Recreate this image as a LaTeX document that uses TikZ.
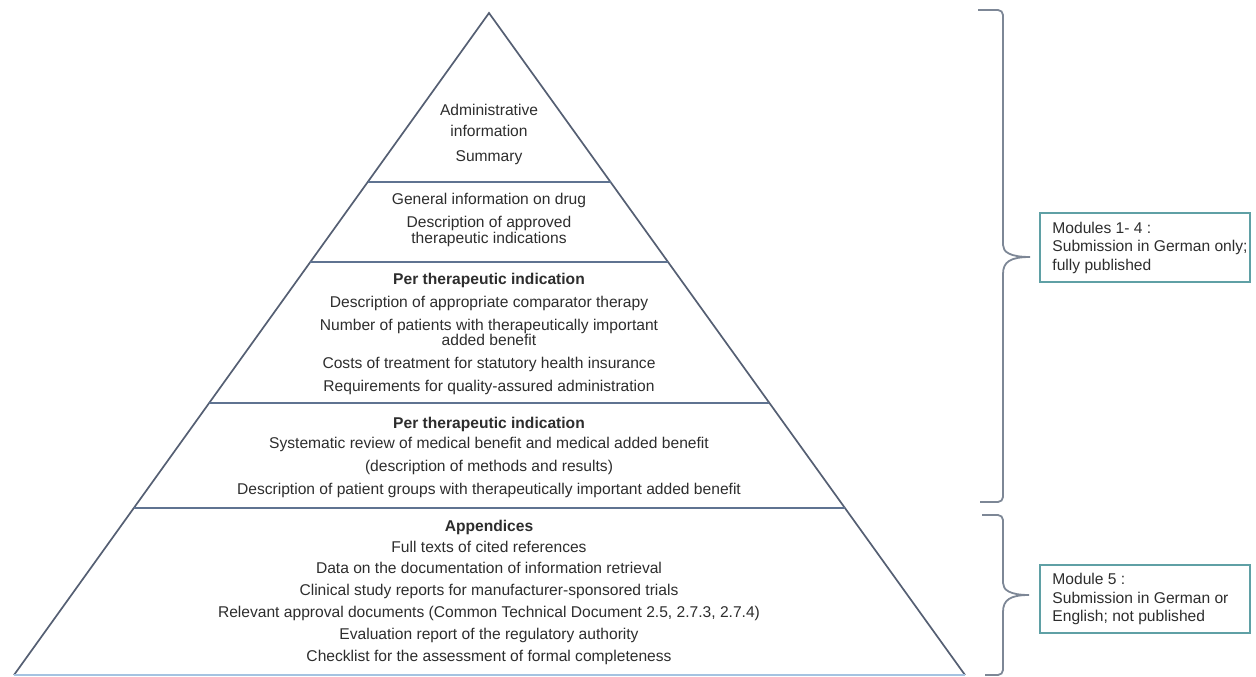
\documentclass[tikz,border=0pt]{standalone}
\usepackage{fontspec}
\setmainfont{Liberation Sans}
\usetikzlibrary{calc}

\definecolor{lado}{RGB}{85,95,115}
\definecolor{separa}{RGB}{95,115,145}
\definecolor{base}{RGB}{165,195,225}
\definecolor{llave}{RGB}{125,135,150}
\definecolor{caja}{RGB}{95,160,165}
\definecolor{texto}{RGB}{45,45,45}

\begin{document}
\begin{tikzpicture}[
    x=1pt, y=-1pt,
    txt/.style={font=\fontsize{15.6}{18.5}\selectfont, text=texto,
        text height=11pt, text depth=0pt, inner sep=0pt},
    tit/.style={txt, font=\fontsize{15.6}{18.5}\selectfont\bfseries},
    modulo/.style={draw=caja, line width=1.5pt, minimum width=210pt, inner sep=0pt},
    nota/.style={font=\fontsize{15.6}{18.5}\selectfont, text=texto, align=left,
        inner sep=0pt, anchor=west},
    llave/.style={draw=llave, line width=1.8pt}
]

\useasboundingbox (0,0) rectangle (1256,677);

% Vertices de la piramide
\coordinate (apex) at (489,13);
\coordinate (bl) at (14,675);
\coordinate (br) at (965,675);

% Lados y base
\draw[lado, line width=1.7pt, line join=miter] (bl) -- (apex) -- (br);
\draw[base, line width=2pt] (bl) -- (br);

% Lineas de separacion entre niveles
\foreach \y in {182,262,403,508}
    \draw[separa, line width=2.2pt]
        ($(apex)!{(\y-13)/662}!(bl)$) -- ($(apex)!{(\y-13)/662}!(br)$);

% Nivel 1
\foreach \y/\t [count=\i] in {110/Administrative, 131/information, 156/Summary}
    \node[txt] (a\i) at (489,\y) {\t};

% Nivel 2
\foreach \y/\t [count=\i] in {199/General information on drug,
        222/Description of approved, 238/therapeutic indications}
    \node[txt] (b\i) at (489,\y) {\t};

% Nivel 3
\node[tit] (c0) at (489,279) {Per therapeutic indication};
\foreach \y/\t [count=\i] in {302/Description of appropriate comparator therapy,
        325/Number of patients with therapeutically important,
        340/added benefit,
        363/Costs of treatment for statutory health insurance,
        386/Requirements for quality-assured administration}
    \node[txt] (c\i) at (489,\y) {\t};

% Nivel 4
\node[tit] (d0) at (489,423) {Per therapeutic indication};
\foreach \y/\t [count=\i] in {443/Systematic review of medical benefit and medical added benefit,
        466/(description of methods and results),
        489/Description of patient groups with therapeutically important added benefit}
    \node[txt] (d\i) at (489,\y) {\t};

% Nivel 5 (anexos)
\node[tit] (e0) at (489,526) {Appendices};
\foreach \y/\t [count=\i] in {547/Full texts of cited references,
        568/Data on the documentation of information retrieval,
        590/Clinical study reports for manufacturer-sponsored trials,
        612/{Relevant approval documents (Common Technical Document 2.5, 2.7.3, 2.7.4)},
        634/Evaluation report of the regulatory authority,
        656/Checklist for the assessment of formal completeness}
    \node[txt] (e\i) at (489,\y) {\t};

% Llaves
\draw[llave] (978,10) [rounded corners=5pt] -- (1003,10) -- (1003,240) [sharp corners]
    .. controls (1003,252) and (1010,257) .. (1030,257)
    .. controls (1010,257) and (1003,262) .. (1003,274)
    [rounded corners=5pt] -- (1003,502) -- (980,502);
\draw[llave] (982,515) [rounded corners=5pt] -- (1003,515) -- (1003,578) [sharp corners]
    .. controls (1003,590) and (1010,595) .. (1029,595)
    .. controls (1010,595) and (1003,600) .. (1003,612)
    [rounded corners=5pt] -- (1003,675) -- (985,675);

% Cajas de modulos
\node[modulo, minimum height=69pt] (mod14) at (1145,247.5) {};
\node[nota] (t14) at ([xshift=13pt]mod14.west)
    {Modules 1- 4 :\\Submission in German only;\\fully published};
\node[modulo, minimum height=68pt] (mod5) at (1145,599) {};
\node[nota] (t5) at ([xshift=13pt]mod5.west)
    {Module 5 :\\Submission in German or\\English; not published};

\end{tikzpicture}
\end{document}
